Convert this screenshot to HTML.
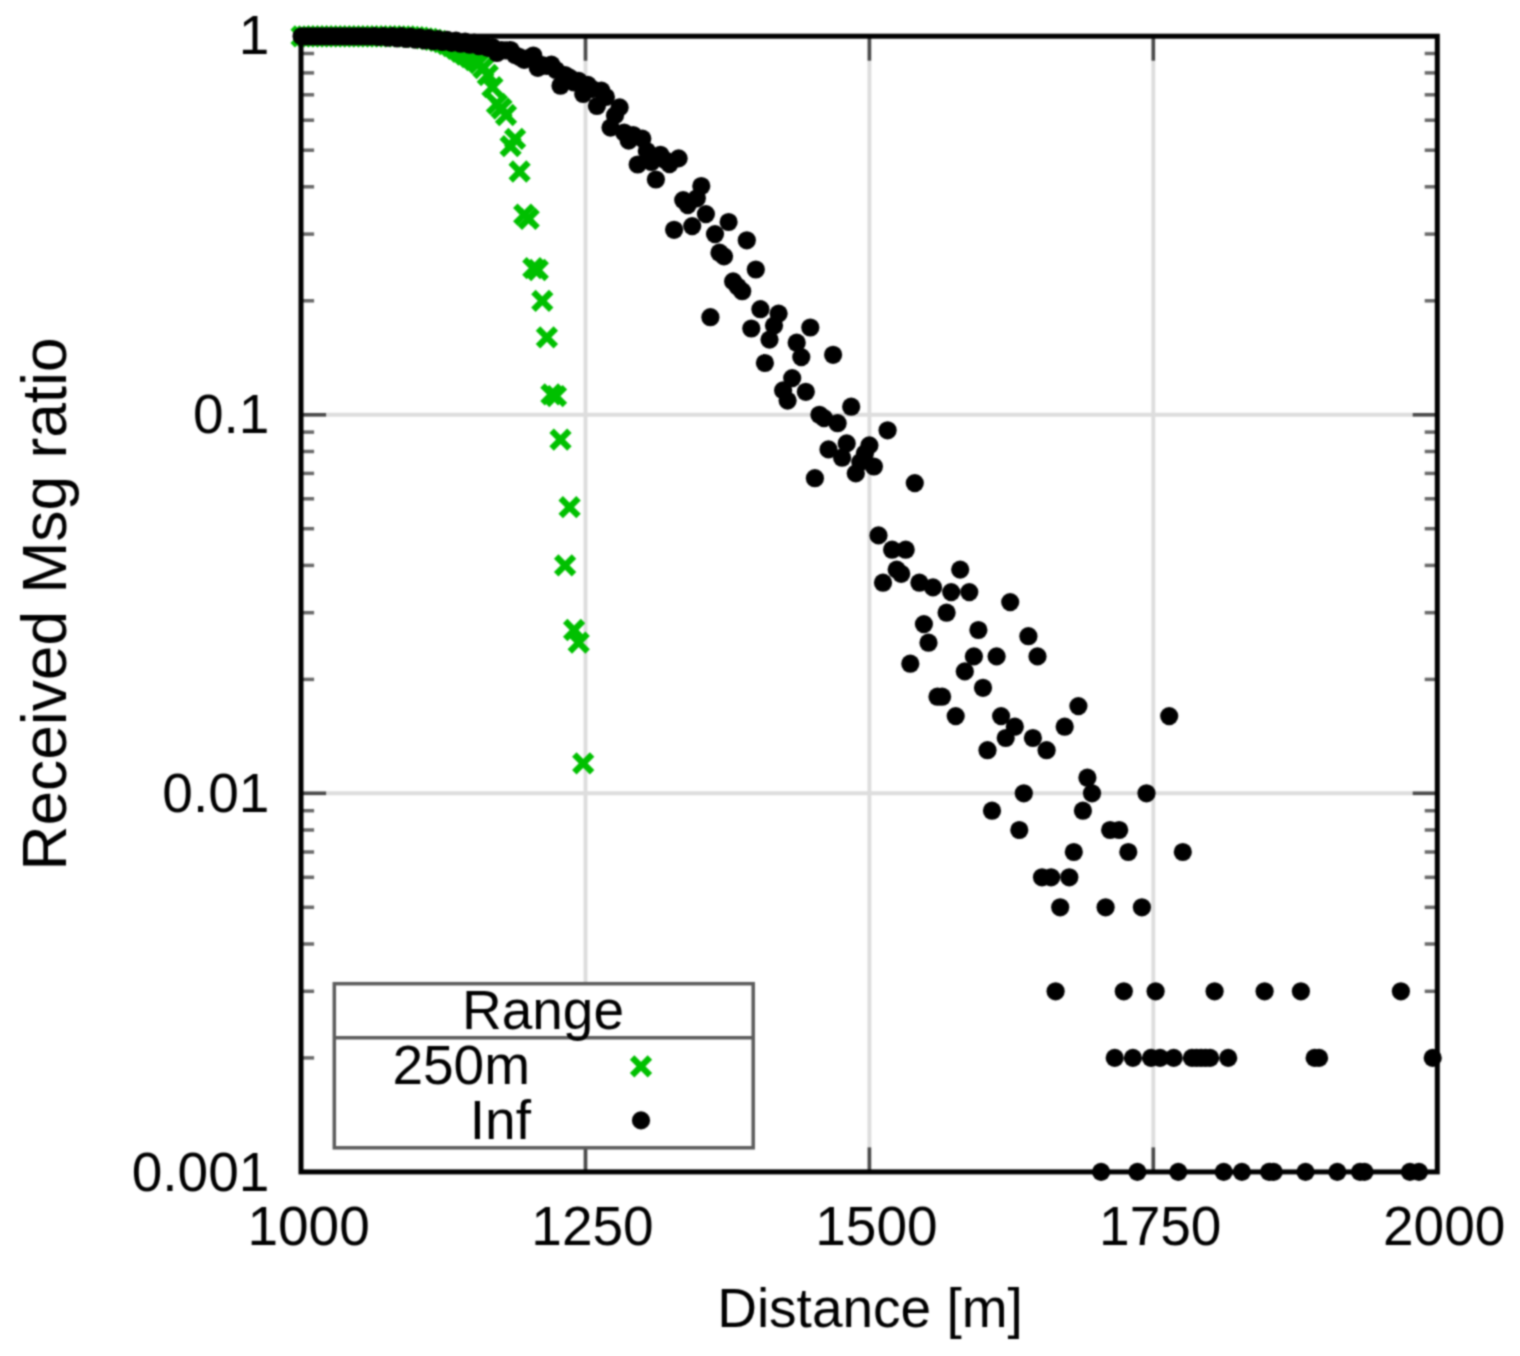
<!DOCTYPE html>
<html lang="en"><head><meta charset="utf-8"><title>Received Msg ratio vs Distance</title>
<style>html,body{margin:0;padding:0;background:#fff;}body{width:1520px;height:1356px;overflow:hidden;}svg{display:block;}text{font-family:"Liberation Sans",Arial,Helvetica,sans-serif;fill:#000;}</style></head><body>
<svg width="1520" height="1356" viewBox="0 0 1520 1356">
<defs><filter id="b" x="0" y="0" width="1520" height="1356" filterUnits="userSpaceOnUse" color-interpolation-filters="sRGB"><feConvolveMatrix order="5" kernelMatrix="0.00087 0.00695 0.01388 0.00695 0.00087 0.00695 0.05540 0.11068 0.05540 0.00695 0.01388 0.11068 0.22111 0.11068 0.01388 0.00695 0.05540 0.11068 0.05540 0.00695 0.00087 0.00695 0.01388 0.00695 0.00087" divisor="1" edgeMode="duplicate" preserveAlpha="true"/></filter>
</defs>
<g filter="url(#b)">
<rect x="-10" y="-10" width="1540" height="1376" fill="#fff"/>
<g stroke="#dddddd" stroke-width="3.9" fill="none">
<line x1="585.5" y1="36.2" x2="585.5" y2="1171.9"/>
<line x1="869.4" y1="36.2" x2="869.4" y2="1171.9"/>
<line x1="1153.3" y1="36.2" x2="1153.3" y2="1171.9"/>
<line x1="301.6" y1="414.8" x2="1437.2" y2="414.8"/>
<line x1="301.6" y1="793.3" x2="1437.2" y2="793.3"/>
</g>
<g stroke="#4a4a4a" stroke-width="3.6" fill="none">
<line x1="585.5" y1="36.2" x2="585.5" y2="60.7"/>
<line x1="585.5" y1="1171.9" x2="585.5" y2="1147.4"/>
<line x1="869.4" y1="36.2" x2="869.4" y2="60.7"/>
<line x1="869.4" y1="1171.9" x2="869.4" y2="1147.4"/>
<line x1="1153.3" y1="36.2" x2="1153.3" y2="60.7"/>
<line x1="1153.3" y1="1171.9" x2="1153.3" y2="1147.4"/>
<line x1="301.6" y1="414.8" x2="326.1" y2="414.8"/>
<line x1="1437.2" y1="414.8" x2="1412.7" y2="414.8"/>
<line x1="301.6" y1="793.3" x2="326.1" y2="793.3"/>
<line x1="1437.2" y1="793.3" x2="1412.7" y2="793.3"/>
</g><g stroke="#686868" stroke-width="3.5" fill="none">
<line x1="301.6" y1="300.8" x2="314.1" y2="300.8"/>
<line x1="1437.2" y1="300.8" x2="1424.7" y2="300.8"/>
<line x1="301.6" y1="234.1" x2="314.1" y2="234.1"/>
<line x1="1437.2" y1="234.1" x2="1424.7" y2="234.1"/>
<line x1="301.6" y1="186.8" x2="314.1" y2="186.8"/>
<line x1="1437.2" y1="186.8" x2="1424.7" y2="186.8"/>
<line x1="301.6" y1="150.2" x2="314.1" y2="150.2"/>
<line x1="1437.2" y1="150.2" x2="1424.7" y2="150.2"/>
<line x1="301.6" y1="120.2" x2="314.1" y2="120.2"/>
<line x1="1437.2" y1="120.2" x2="1424.7" y2="120.2"/>
<line x1="301.6" y1="94.8" x2="314.1" y2="94.8"/>
<line x1="1437.2" y1="94.8" x2="1424.7" y2="94.8"/>
<line x1="301.6" y1="72.9" x2="314.1" y2="72.9"/>
<line x1="1437.2" y1="72.9" x2="1424.7" y2="72.9"/>
<line x1="301.6" y1="53.5" x2="314.1" y2="53.5"/>
<line x1="1437.2" y1="53.5" x2="1424.7" y2="53.5"/>
<line x1="301.6" y1="679.4" x2="314.1" y2="679.4"/>
<line x1="1437.2" y1="679.4" x2="1424.7" y2="679.4"/>
<line x1="301.6" y1="612.7" x2="314.1" y2="612.7"/>
<line x1="1437.2" y1="612.7" x2="1424.7" y2="612.7"/>
<line x1="301.6" y1="565.4" x2="314.1" y2="565.4"/>
<line x1="1437.2" y1="565.4" x2="1424.7" y2="565.4"/>
<line x1="301.6" y1="528.7" x2="314.1" y2="528.7"/>
<line x1="1437.2" y1="528.7" x2="1424.7" y2="528.7"/>
<line x1="301.6" y1="498.8" x2="314.1" y2="498.8"/>
<line x1="1437.2" y1="498.8" x2="1424.7" y2="498.8"/>
<line x1="301.6" y1="473.4" x2="314.1" y2="473.4"/>
<line x1="1437.2" y1="473.4" x2="1424.7" y2="473.4"/>
<line x1="301.6" y1="451.5" x2="314.1" y2="451.5"/>
<line x1="1437.2" y1="451.5" x2="1424.7" y2="451.5"/>
<line x1="301.6" y1="432.1" x2="314.1" y2="432.1"/>
<line x1="1437.2" y1="432.1" x2="1424.7" y2="432.1"/>
<line x1="301.6" y1="1057.9" x2="314.1" y2="1057.9"/>
<line x1="1437.2" y1="1057.9" x2="1424.7" y2="1057.9"/>
<line x1="301.6" y1="991.3" x2="314.1" y2="991.3"/>
<line x1="1437.2" y1="991.3" x2="1424.7" y2="991.3"/>
<line x1="301.6" y1="944.0" x2="314.1" y2="944.0"/>
<line x1="1437.2" y1="944.0" x2="1424.7" y2="944.0"/>
<line x1="301.6" y1="907.3" x2="314.1" y2="907.3"/>
<line x1="1437.2" y1="907.3" x2="1424.7" y2="907.3"/>
<line x1="301.6" y1="877.3" x2="314.1" y2="877.3"/>
<line x1="1437.2" y1="877.3" x2="1424.7" y2="877.3"/>
<line x1="301.6" y1="852.0" x2="314.1" y2="852.0"/>
<line x1="1437.2" y1="852.0" x2="1424.7" y2="852.0"/>
<line x1="301.6" y1="830.0" x2="314.1" y2="830.0"/>
<line x1="1437.2" y1="830.0" x2="1424.7" y2="830.0"/>
<line x1="301.6" y1="810.7" x2="314.1" y2="810.7"/>
<line x1="1437.2" y1="810.7" x2="1424.7" y2="810.7"/>
</g>
<g id="green" stroke="#00c000" stroke-width="6.3" stroke-linecap="butt" fill="none">
<path d="M292.7 27.4l17.8 17.8m-17.8 0l17.8 -17.8"/>
<path d="M297.2 27.4l17.8 17.8m-17.8 0l17.8 -17.8"/>
<path d="M301.8 27.4l17.8 17.8m-17.8 0l17.8 -17.8"/>
<path d="M306.3 27.4l17.8 17.8m-17.8 0l17.8 -17.8"/>
<path d="M310.9 27.4l17.8 17.8m-17.8 0l17.8 -17.8"/>
<path d="M315.4 27.4l17.8 17.8m-17.8 0l17.8 -17.8"/>
<path d="M320.0 27.4l17.8 17.8m-17.8 0l17.8 -17.8"/>
<path d="M324.5 27.4l17.8 17.8m-17.8 0l17.8 -17.8"/>
<path d="M329.0 27.4l17.8 17.8m-17.8 0l17.8 -17.8"/>
<path d="M333.6 27.4l17.8 17.8m-17.8 0l17.8 -17.8"/>
<path d="M338.1 27.4l17.8 17.8m-17.8 0l17.8 -17.8"/>
<path d="M342.7 27.4l17.8 17.8m-17.8 0l17.8 -17.8"/>
<path d="M347.2 27.4l17.8 17.8m-17.8 0l17.8 -17.8"/>
<path d="M351.8 27.4l17.8 17.8m-17.8 0l17.8 -17.8"/>
<path d="M356.3 27.4l17.8 17.8m-17.8 0l17.8 -17.8"/>
<path d="M360.8 27.4l17.8 17.8m-17.8 0l17.8 -17.8"/>
<path d="M365.4 27.4l17.8 17.8m-17.8 0l17.8 -17.8"/>
<path d="M369.9 27.4l17.8 17.8m-17.8 0l17.8 -17.8"/>
<path d="M374.5 27.4l17.8 17.8m-17.8 0l17.8 -17.8"/>
<path d="M379.0 27.4l17.8 17.8m-17.8 0l17.8 -17.8"/>
<path d="M383.5 27.4l17.8 17.8m-17.8 0l17.8 -17.8"/>
<path d="M388.1 27.4l17.8 17.8m-17.8 0l17.8 -17.8"/>
<path d="M392.6 27.4l17.8 17.8m-17.8 0l17.8 -17.8"/>
<path d="M397.2 27.6l17.8 17.8m-17.8 0l17.8 -17.8"/>
<path d="M401.7 27.9l17.8 17.8m-17.8 0l17.8 -17.8"/>
<path d="M406.3 28.3l17.8 17.8m-17.8 0l17.8 -17.8"/>
<path d="M410.8 28.8l17.8 17.8m-17.8 0l17.8 -17.8"/>
<path d="M415.3 29.4l17.8 17.8m-17.8 0l17.8 -17.8"/>
<path d="M419.9 30.1l17.8 17.8m-17.8 0l17.8 -17.8"/>
<path d="M424.4 30.9l17.8 17.8m-17.8 0l17.8 -17.8"/>
<path d="M429.0 31.9l17.8 17.8m-17.8 0l17.8 -17.8"/>
<path d="M433.5 33.3l17.8 17.8m-17.8 0l17.8 -17.8"/>
<path d="M438.1 35.1l17.8 17.8m-17.8 0l17.8 -17.8"/>
<path d="M442.6 37.3l17.8 17.8m-17.8 0l17.8 -17.8"/>
<path d="M447.1 39.9l17.8 17.8m-17.8 0l17.8 -17.8"/>
<path d="M451.7 42.9l17.8 17.8m-17.8 0l17.8 -17.8"/>
<path d="M456.2 45.6l17.8 17.8m-17.8 0l17.8 -17.8"/>
<path d="M460.8 48.1l17.8 17.8m-17.8 0l17.8 -17.8"/>
<path d="M465.3 51.1l17.8 17.8m-17.8 0l17.8 -17.8"/>
<path d="M469.9 54.1l17.8 17.8m-17.8 0l17.8 -17.8"/>
<path d="M474.4 59.1l17.8 17.8m-17.8 0l17.8 -17.8"/>
<path d="M478.9 66.1l17.8 17.8m-17.8 0l17.8 -17.8"/>
<path d="M483.5 78.3l17.8 17.8m-17.8 0l17.8 -17.8"/>
<path d="M488.0 94.9l17.8 17.8m-17.8 0l17.8 -17.8"/>
<path d="M492.6 99.7l17.8 17.8m-17.8 0l17.8 -17.8"/>
<path d="M497.1 106.1l17.8 17.8m-17.8 0l17.8 -17.8"/>
<path d="M501.7 137.2l17.8 17.8m-17.8 0l17.8 -17.8"/>
<path d="M506.2 130.0l17.8 17.8m-17.8 0l17.8 -17.8"/>
<path d="M510.7 162.6l17.8 17.8m-17.8 0l17.8 -17.8"/>
<path d="M515.3 205.7l17.8 17.8m-17.8 0l17.8 -17.8"/>
<path d="M519.8 209.9l17.8 17.8m-17.8 0l17.8 -17.8"/>
<path d="M524.4 259.3l17.8 17.8m-17.8 0l17.8 -17.8"/>
<path d="M528.9 261.1l17.8 17.8m-17.8 0l17.8 -17.8"/>
<path d="M533.4 291.9l17.8 17.8m-17.8 0l17.8 -17.8"/>
<path d="M538.0 328.4l17.8 17.8m-17.8 0l17.8 -17.8"/>
<path d="M542.5 385.4l17.8 17.8m-17.8 0l17.8 -17.8"/>
<path d="M547.1 387.2l17.8 17.8m-17.8 0l17.8 -17.8"/>
<path d="M551.6 430.7l17.8 17.8m-17.8 0l17.8 -17.8"/>
<path d="M556.2 556.5l17.8 17.8m-17.8 0l17.8 -17.8"/>
<path d="M560.7 498.3l17.8 17.8m-17.8 0l17.8 -17.8"/>
<path d="M565.2 621.1l17.8 17.8m-17.8 0l17.8 -17.8"/>
<path d="M569.8 633.8l17.8 17.8m-17.8 0l17.8 -17.8"/>
<path d="M574.3 754.5l17.8 17.8m-17.8 0l17.8 -17.8"/>
</g>
<g id="black" fill="#000">
<circle cx="301.6" cy="36.3" r="9.1"/>
<circle cx="306.1" cy="36.3" r="9.1"/>
<circle cx="310.7" cy="36.3" r="9.1"/>
<circle cx="315.2" cy="36.3" r="9.1"/>
<circle cx="319.8" cy="36.3" r="9.1"/>
<circle cx="324.3" cy="36.3" r="9.1"/>
<circle cx="328.9" cy="36.3" r="9.1"/>
<circle cx="333.4" cy="36.3" r="9.1"/>
<circle cx="337.9" cy="36.3" r="9.1"/>
<circle cx="342.5" cy="36.3" r="9.1"/>
<circle cx="347.0" cy="36.3" r="9.1"/>
<circle cx="351.6" cy="36.3" r="9.1"/>
<circle cx="356.1" cy="36.3" r="9.1"/>
<circle cx="360.7" cy="36.3" r="9.1"/>
<circle cx="365.2" cy="36.3" r="9.1"/>
<circle cx="369.7" cy="36.5" r="9.1"/>
<circle cx="374.3" cy="36.1" r="9.1"/>
<circle cx="378.8" cy="37.0" r="9.1"/>
<circle cx="383.4" cy="36.0" r="9.1"/>
<circle cx="387.9" cy="37.7" r="9.1"/>
<circle cx="392.4" cy="36.1" r="9.1"/>
<circle cx="397.0" cy="38.4" r="9.1"/>
<circle cx="401.5" cy="36.2" r="9.1"/>
<circle cx="406.1" cy="39.0" r="9.1"/>
<circle cx="410.6" cy="36.7" r="9.1"/>
<circle cx="415.2" cy="39.6" r="9.1"/>
<circle cx="419.7" cy="37.4" r="9.1"/>
<circle cx="424.2" cy="40.4" r="9.1"/>
<circle cx="428.8" cy="38.2" r="9.1"/>
<circle cx="433.3" cy="41.2" r="9.1"/>
<circle cx="437.9" cy="39.0" r="9.1"/>
<circle cx="442.4" cy="42.0" r="9.1"/>
<circle cx="447.0" cy="39.8" r="9.1"/>
<circle cx="451.5" cy="42.8" r="9.1"/>
<circle cx="456.0" cy="40.7" r="9.1"/>
<circle cx="460.6" cy="43.7" r="9.1"/>
<circle cx="465.1" cy="41.6" r="9.1"/>
<circle cx="469.7" cy="44.7" r="9.1"/>
<circle cx="474.2" cy="42.7" r="9.1"/>
<circle cx="478.8" cy="46.1" r="9.1"/>
<circle cx="483.3" cy="44.3" r="9.1"/>
<circle cx="487.8" cy="47.9" r="9.1"/>
<circle cx="492.4" cy="47.0" r="9.1"/>
<circle cx="496.9" cy="53.0" r="9.1"/>
<circle cx="501.5" cy="50.0" r="9.1"/>
<circle cx="506.0" cy="50.4" r="9.1"/>
<circle cx="510.6" cy="50.0" r="9.1"/>
<circle cx="515.1" cy="55.0" r="9.1"/>
<circle cx="519.6" cy="57.0" r="9.1"/>
<circle cx="524.2" cy="59.8" r="9.1"/>
<circle cx="528.7" cy="58.0" r="9.1"/>
<circle cx="533.3" cy="55.5" r="9.1"/>
<circle cx="537.8" cy="67.9" r="9.1"/>
<circle cx="542.3" cy="65.0" r="9.1"/>
<circle cx="546.9" cy="66.0" r="9.1"/>
<circle cx="551.4" cy="64.6" r="9.1"/>
<circle cx="556.0" cy="70.0" r="9.1"/>
<circle cx="560.5" cy="85.7" r="9.1"/>
<circle cx="565.1" cy="75.0" r="9.1"/>
<circle cx="569.6" cy="77.6" r="9.1"/>
<circle cx="574.1" cy="82.5" r="9.1"/>
<circle cx="578.7" cy="80.9" r="9.1"/>
<circle cx="583.2" cy="94.0" r="9.1"/>
<circle cx="587.8" cy="84.9" r="9.1"/>
<circle cx="592.3" cy="89.0" r="9.1"/>
<circle cx="596.9" cy="106.0" r="9.1"/>
<circle cx="601.4" cy="90.6" r="9.1"/>
<circle cx="605.9" cy="97.0" r="9.1"/>
<circle cx="610.5" cy="127.6" r="9.1"/>
<circle cx="615.0" cy="115.4" r="9.1"/>
<circle cx="619.6" cy="107.4" r="9.1"/>
<circle cx="624.1" cy="132.5" r="9.1"/>
<circle cx="628.7" cy="140.6" r="9.1"/>
<circle cx="633.2" cy="135.0" r="9.1"/>
<circle cx="637.7" cy="164.5" r="9.1"/>
<circle cx="642.3" cy="138.6" r="9.1"/>
<circle cx="646.8" cy="151.0" r="9.1"/>
<circle cx="651.4" cy="162.0" r="9.1"/>
<circle cx="655.9" cy="179.5" r="9.1"/>
<circle cx="660.4" cy="154.8" r="9.1"/>
<circle cx="665.0" cy="160.0" r="9.1"/>
<circle cx="669.5" cy="164.1" r="9.1"/>
<circle cx="674.1" cy="229.8" r="9.1"/>
<circle cx="678.6" cy="158.4" r="9.1"/>
<circle cx="683.2" cy="200.1" r="9.1"/>
<circle cx="687.7" cy="205.1" r="9.1"/>
<circle cx="692.2" cy="226.1" r="9.1"/>
<circle cx="696.8" cy="198.3" r="9.1"/>
<circle cx="701.3" cy="186.0" r="9.1"/>
<circle cx="705.9" cy="214.1" r="9.1"/>
<circle cx="710.4" cy="317.2" r="9.1"/>
<circle cx="715.0" cy="234.1" r="9.1"/>
<circle cx="719.5" cy="252.7" r="9.1"/>
<circle cx="724.0" cy="256.4" r="9.1"/>
<circle cx="728.6" cy="222.0" r="9.1"/>
<circle cx="733.1" cy="281.4" r="9.1"/>
<circle cx="737.7" cy="286.6" r="9.1"/>
<circle cx="742.2" cy="291.2" r="9.1"/>
<circle cx="746.8" cy="240.3" r="9.1"/>
<circle cx="751.3" cy="328.5" r="9.1"/>
<circle cx="755.8" cy="269.5" r="9.1"/>
<circle cx="760.4" cy="309.2" r="9.1"/>
<circle cx="764.9" cy="363.0" r="9.1"/>
<circle cx="769.5" cy="339.6" r="9.1"/>
<circle cx="774.0" cy="325.6" r="9.1"/>
<circle cx="778.6" cy="313.6" r="9.1"/>
<circle cx="783.1" cy="390.4" r="9.1"/>
<circle cx="787.6" cy="400.6" r="9.1"/>
<circle cx="792.2" cy="378.1" r="9.1"/>
<circle cx="796.7" cy="342.7" r="9.1"/>
<circle cx="801.3" cy="357.1" r="9.1"/>
<circle cx="805.8" cy="391.8" r="9.1"/>
<circle cx="810.3" cy="327.5" r="9.1"/>
<circle cx="814.9" cy="478.2" r="9.1"/>
<circle cx="819.4" cy="414.8" r="9.1"/>
<circle cx="824.0" cy="418.1" r="9.1"/>
<circle cx="828.5" cy="449.4" r="9.1"/>
<circle cx="833.1" cy="354.8" r="9.1"/>
<circle cx="837.6" cy="423.2" r="9.1"/>
<circle cx="842.1" cy="457.7" r="9.1"/>
<circle cx="846.7" cy="443.4" r="9.1"/>
<circle cx="851.2" cy="406.7" r="9.1"/>
<circle cx="855.8" cy="473.4" r="9.1"/>
<circle cx="860.3" cy="462.1" r="9.1"/>
<circle cx="864.9" cy="453.5" r="9.1"/>
<circle cx="869.4" cy="445.4" r="9.1"/>
<circle cx="873.9" cy="466.5" r="9.1"/>
<circle cx="878.5" cy="535.4" r="9.1"/>
<circle cx="883.0" cy="582.7" r="9.1"/>
<circle cx="887.6" cy="430.3" r="9.1"/>
<circle cx="892.1" cy="549.7" r="9.1"/>
<circle cx="896.7" cy="569.6" r="9.1"/>
<circle cx="901.2" cy="573.8" r="9.1"/>
<circle cx="905.7" cy="549.7" r="9.1"/>
<circle cx="910.3" cy="663.7" r="9.1"/>
<circle cx="914.8" cy="483.1" r="9.1"/>
<circle cx="919.4" cy="582.7" r="9.1"/>
<circle cx="923.9" cy="624.1" r="9.1"/>
<circle cx="928.5" cy="642.7" r="9.1"/>
<circle cx="933.0" cy="587.4" r="9.1"/>
<circle cx="937.5" cy="696.7" r="9.1"/>
<circle cx="942.1" cy="696.7" r="9.1"/>
<circle cx="946.6" cy="612.7" r="9.1"/>
<circle cx="951.2" cy="592.1" r="9.1"/>
<circle cx="955.7" cy="716.1" r="9.1"/>
<circle cx="960.2" cy="569.6" r="9.1"/>
<circle cx="964.8" cy="671.4" r="9.1"/>
<circle cx="969.3" cy="592.1" r="9.1"/>
<circle cx="973.9" cy="656.4" r="9.1"/>
<circle cx="978.4" cy="630.0" r="9.1"/>
<circle cx="983.0" cy="687.8" r="9.1"/>
<circle cx="987.5" cy="750.2" r="9.1"/>
<circle cx="992.0" cy="810.7" r="9.1"/>
<circle cx="996.6" cy="656.4" r="9.1"/>
<circle cx="1001.1" cy="716.1" r="9.1"/>
<circle cx="1005.7" cy="738.0" r="9.1"/>
<circle cx="1010.2" cy="602.1" r="9.1"/>
<circle cx="1014.8" cy="726.7" r="9.1"/>
<circle cx="1019.3" cy="830.0" r="9.1"/>
<circle cx="1023.8" cy="793.3" r="9.1"/>
<circle cx="1028.4" cy="636.2" r="9.1"/>
<circle cx="1032.9" cy="738.0" r="9.1"/>
<circle cx="1037.5" cy="656.4" r="9.1"/>
<circle cx="1042.0" cy="877.3" r="9.1"/>
<circle cx="1046.6" cy="750.2" r="9.1"/>
<circle cx="1051.1" cy="877.3" r="9.1"/>
<circle cx="1055.6" cy="991.3" r="9.1"/>
<circle cx="1060.2" cy="907.3" r="9.1"/>
<circle cx="1064.7" cy="726.7" r="9.1"/>
<circle cx="1069.3" cy="877.3" r="9.1"/>
<circle cx="1073.8" cy="852.0" r="9.1"/>
<circle cx="1078.4" cy="706.1" r="9.1"/>
<circle cx="1082.9" cy="810.7" r="9.1"/>
<circle cx="1087.4" cy="777.7" r="9.1"/>
<circle cx="1092.0" cy="793.3" r="9.1"/>
<circle cx="1101.1" cy="1171.9" r="9.1"/>
<circle cx="1105.6" cy="907.3" r="9.1"/>
<circle cx="1110.1" cy="830.0" r="9.1"/>
<circle cx="1114.7" cy="1057.9" r="9.1"/>
<circle cx="1119.2" cy="830.0" r="9.1"/>
<circle cx="1123.8" cy="991.3" r="9.1"/>
<circle cx="1128.3" cy="852.0" r="9.1"/>
<circle cx="1132.9" cy="1057.9" r="9.1"/>
<circle cx="1137.4" cy="1171.9" r="9.1"/>
<circle cx="1141.9" cy="907.3" r="9.1"/>
<circle cx="1146.5" cy="793.3" r="9.1"/>
<circle cx="1151.0" cy="1057.9" r="9.1"/>
<circle cx="1155.6" cy="991.3" r="9.1"/>
<circle cx="1160.1" cy="1057.9" r="9.1"/>
<circle cx="1169.2" cy="716.1" r="9.1"/>
<circle cx="1173.7" cy="1057.9" r="9.1"/>
<circle cx="1178.3" cy="1171.9" r="9.1"/>
<circle cx="1182.8" cy="852.0" r="9.1"/>
<circle cx="1191.9" cy="1057.9" r="9.1"/>
<circle cx="1196.5" cy="1057.9" r="9.1"/>
<circle cx="1201.0" cy="1057.9" r="9.1"/>
<circle cx="1205.5" cy="1057.9" r="9.1"/>
<circle cx="1210.1" cy="1057.9" r="9.1"/>
<circle cx="1214.6" cy="991.3" r="9.1"/>
<circle cx="1223.7" cy="1171.9" r="9.1"/>
<circle cx="1228.2" cy="1057.9" r="9.1"/>
<circle cx="1241.9" cy="1171.9" r="9.1"/>
<circle cx="1264.6" cy="991.3" r="9.1"/>
<circle cx="1269.1" cy="1171.9" r="9.1"/>
<circle cx="1273.7" cy="1171.9" r="9.1"/>
<circle cx="1300.9" cy="991.3" r="9.1"/>
<circle cx="1305.5" cy="1171.9" r="9.1"/>
<circle cx="1314.6" cy="1057.9" r="9.1"/>
<circle cx="1319.1" cy="1057.9" r="9.1"/>
<circle cx="1337.3" cy="1171.9" r="9.1"/>
<circle cx="1360.0" cy="1171.9" r="9.1"/>
<circle cx="1364.5" cy="1171.9" r="9.1"/>
<circle cx="1400.9" cy="991.3" r="9.1"/>
<circle cx="1409.9" cy="1171.9" r="9.1"/>
<circle cx="1419.0" cy="1171.9" r="9.1"/>
<circle cx="1432.7" cy="1057.9" r="9.1"/>
</g>
<rect x="301.0" y="36.2" width="1136.3" height="1135.7" fill="none" stroke="#000" stroke-width="5"/>
<rect x="334.3" y="983.7" width="418.9" height="164.1" fill="#fff" stroke="#5c5c5c" stroke-width="3.5"/>
<line x1="334.3" y1="1037.8" x2="753.2" y2="1037.8" stroke="#5c5c5c" stroke-width="3.5"/>
<g stroke="#00c000" stroke-width="6.3" stroke-linecap="butt" fill="none"><path d="M632.1 1057.5l17.8 17.8m-17.8 0l17.8 -17.8"/></g>
<circle cx="641" cy="1120.4" r="9.1" fill="#000"/>
<g font-size="55">
<text x="543" y="1029" text-anchor="middle">Range</text>
<text x="530" y="1084.3" text-anchor="end">250m</text>
<text x="531" y="1138.6" text-anchor="end">Inf</text>
<text x="308.6" y="1245.2" text-anchor="middle">1000</text>
<text x="592.5" y="1245.2" text-anchor="middle">1250</text>
<text x="876.4" y="1245.2" text-anchor="middle">1500</text>
<text x="1160.3" y="1245.2" text-anchor="middle">1750</text>
<text x="1444.2" y="1245.2" text-anchor="middle">2000</text>
<text x="269.4" y="53.8" text-anchor="end">1</text>
<text x="269.4" y="433.4" text-anchor="end">0.1</text>
<text x="269.4" y="811.9" text-anchor="end">0.01</text>
<text x="269.4" y="1190.5" text-anchor="end">0.001</text>
<text x="870" y="1327" text-anchor="middle">Distance [m]</text>
</g>
<text font-size="62.3" text-anchor="middle" transform="translate(66,604) rotate(-90)">Received Msg ratio</text>
</g>
</svg></body></html>
